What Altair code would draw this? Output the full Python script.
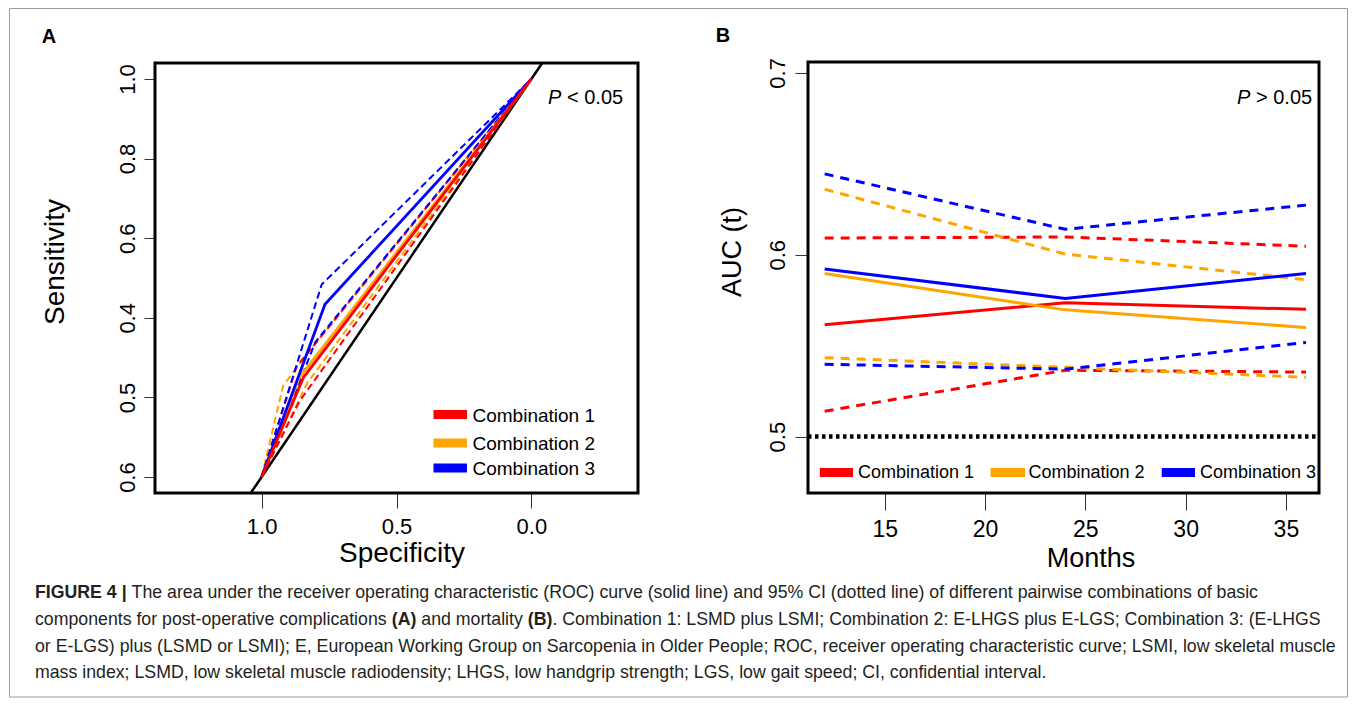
import altair as alt
import pandas as pd

# ---------------- data ----------------
COMBOS = ["Combination 1", "Combination 2", "Combination 3"]
COLORS = ["#ff0000", "#ffa500", "#0000ff"]

# Panel A: ROC curve vertices (specificity, sensitivity)
SPEC_SOLID = [[1.0, 0.845, 0.0], [1.0, 0.86, 0.0], [1.0, 0.765, 0.0]]
SENS_SOLID = [[0.0, 0.25, 1.0], [0.0, 0.25, 1.0], [0.0, 0.434, 1.0]]
SPEC_UPPER = [[1.0, 0.87, 0.0], [1.0, 0.92, 0.79, 0.0], [1.0, 0.777, 0.0]]
SENS_UPPER = [[0.0, 0.278, 1.0], [0.0, 0.23, 0.345, 1.0], [0.0, 0.484, 1.0]]
SPEC_LOWER = [[1.0, 0.86, 0.0], [1.0, 0.83, 0.0], [1.0, 0.80, 0.0]]
SENS_LOWER = [[0.0, 0.19, 1.0], [0.0, 0.237, 1.0], [0.0, 0.34, 1.0]]
DIAG_SPEC = [1.04, -0.04]
DIAG_SENS = [-0.04, 1.04]
SPEC_TICKS = [1.0, 0.5, 0.0]
SENS_TICKS = [0.0, 0.2, 0.4, 0.6, 0.8, 1.0]
SENS_TICK_LABELS = ["0.6", "0.5", "0.4", "0.6", "0.8", "1.0"]

# Panel B: time-dependent AUC
MONTHS = [12, 24, 36]
AUC_SOLID = [[0.5615, 0.5736, 0.5700], [0.5897, 0.5697, 0.5600], [0.5922, 0.5760, 0.5897]]
AUC_UPPER = [[0.6092, 0.6098, 0.6047], [0.6360, 0.6004, 0.5863], [0.6445, 0.6140, 0.6273]]
AUC_LOWER = [[0.5140, 0.5365, 0.5355], [0.5434, 0.5381, 0.5326], [0.5398, 0.5371, 0.5518]]
MONTH_TICKS = [15, 20, 25, 30, 35]
AUC_TICKS = [0.5, 0.6, 0.7]
REF_AUC = 0.5

CAPTION = [
    [("FIGURE 4 |", True),
     (" The area under the receiver operating characteristic (ROC) curve (solid line) and 95% CI (dotted line) of different pairwise combinations of basic", False)],
    [("components for post-operative complications ", False), ("(A)", True), (" and mortality ", False), ("(B)", True),
     (". Combination 1: LSMD plus LSMI; Combination 2: E-LHGS plus E-LGS; Combination 3: (E-LHGS", False)],
    [("or E-LGS) plus (LSMD or LSMI); E, European Working Group on Sarcopenia in Older People; ROC, receiver operating characteristic curve; LSMI, low skeletal muscle", False)],
    [("mass index; LSMD, low skeletal muscle radiodensity; LHGS, low handgrip strength; LGS, low gait speed; CI, confidential interval.", False)],
]

# ---------------- layout ----------------
W, H = 1341, 690
FONT = "Liberation Sans"
A_X_DOM, A_Y_DOM = [1.395, -0.395], [-0.04, 1.04]
A_X_RNG, A_Y_RNG = [147, 630], [485, 55]
B_X_DOM, B_Y_DOM = [11.17, 36.65], [0.469, 0.706]
B_X_RNG, B_Y_RNG = [800, 1311], [485, 54]


def sc(dom, rng):
    return alt.Scale(domain=dom, range=rng, nice=False, zero=False)


def label_expr(vals, labs):
    parts = [f"abs(datum.value - {v}) < 0.001 ? '{l}'" for v, l in zip(vals, labs)]
    return " : ".join(parts) + " : ''"


common_axis = dict(domain=False, grid=False, tickColor="#333", tickWidth=1, labelFont=FONT,
                   labelColor="black", title=None, labelFlush=False, labelOverlap=False)

axA_x = alt.Axis(values=SPEC_TICKS, format=".1f", orient="bottom", offset=A_Y_RNG[0] - H,
                 tickSize=15, labelPadding=8, labelFontSize=22, **common_axis)
axA_y = alt.Axis(values=SENS_TICKS, labelExpr=label_expr(SENS_TICKS, SENS_TICK_LABELS), orient="left",
                 offset=-A_X_RNG[0], tickSize=11, labelPadding=10, labelFontSize=22, labelAngle=270,
                 labelAlign="center", labelBaseline="alphabetic", **common_axis)
axB_x = alt.Axis(values=MONTH_TICKS, format="d", orient="bottom", offset=B_Y_RNG[0] - H,
                 tickSize=17, labelPadding=8, labelFontSize=23, **common_axis)
axB_y = alt.Axis(values=AUC_TICKS, format=".1f", orient="left", offset=-B_X_RNG[0],
                 tickSize=13, labelPadding=11, labelFontSize=22, labelAngle=270,
                 labelAlign="center", labelBaseline="alphabetic", **common_axis)

# ---------------- panel A ----------------
rows = []
for ci in range(3):
    for kind, SP, SE in [("solid", SPEC_SOLID, SENS_SOLID), ("upper", SPEC_UPPER, SENS_UPPER),
                         ("lower", SPEC_LOWER, SENS_LOWER)]:
        for i, (s, t) in enumerate(zip(SP[ci], SE[ci])):
            rows.append(dict(key=f"{ci}-{kind}", idx=i, spec=s, sens=t))
for i, (s, t) in enumerate(zip(DIAG_SPEC, DIAG_SENS)):
    rows.append(dict(key="diag", idx=i, spec=s, sens=t))
dfA = pd.DataFrame(rows)

xA = alt.X("spec:Q", scale=sc(A_X_DOM, A_X_RNG), axis=axA_x)
yA = alt.Y("sens:Q", scale=sc(A_Y_DOM, A_Y_RNG), axis=axA_y)
baseA = alt.Chart(dfA).encode(x=xA, y=yA, order="idx:Q")

frameA = alt.Chart(pd.DataFrame({"spec": [A_X_DOM[0]], "spec2": [A_X_DOM[1]],
                                 "sens": [A_Y_DOM[0]], "sens2": [A_Y_DOM[1]]})).mark_rect(
    fillOpacity=0, stroke="black", strokeWidth=3).encode(x=xA, x2="spec2", y=yA, y2="sens2")

layersA = [frameA,
           baseA.transform_filter(alt.datum.key == "diag").mark_line(color="black", strokeWidth=2.5)]
for ci in [1, 0, 2]:
    for kind in ["upper", "lower"]:
        layersA.append(baseA.transform_filter(alt.datum.key == f"{ci}-{kind}").mark_line(
            color=COLORS[ci], strokeWidth=2, strokeDash=[7, 4]))
for ci in [1, 2, 0]:
    layersA.append(baseA.transform_filter(alt.datum.key == f"{ci}-solid").mark_line(
        color=COLORS[ci], strokeWidth=2.8))
panelA = alt.layer(*layersA)

# ---------------- panel B ----------------
rowsB = []
for ci in range(3):
    for kind, A in [("solid", AUC_SOLID), ("upper", AUC_UPPER), ("lower", AUC_LOWER)]:
        for m, v in zip(MONTHS, A[ci]):
            rowsB.append(dict(key=f"{ci}-{kind}", month=m, auc=v))
rowsB.append(dict(key="ref", month=B_X_DOM[0], auc=REF_AUC))
rowsB.append(dict(key="ref", month=B_X_DOM[1], auc=REF_AUC))
dfB = pd.DataFrame(rowsB)

xB = alt.X("month:Q", scale=sc(B_X_DOM, B_X_RNG), axis=axB_x)
yB = alt.Y("auc:Q", scale=sc(B_Y_DOM, B_Y_RNG), axis=axB_y)
baseB = alt.Chart(dfB).encode(x=xB, y=yB, order="month:Q")

frameB = alt.Chart(pd.DataFrame({"month": [B_X_DOM[0]], "month2": [B_X_DOM[1]],
                                 "auc": [B_Y_DOM[0]], "auc2": [B_Y_DOM[1]]})).mark_rect(
    fillOpacity=0, stroke="black", strokeWidth=3).encode(x=xB, x2="month2", y=yB, y2="auc2")

layersB = [frameB,
           baseB.transform_filter(alt.datum.key == "ref").mark_line(
               color="black", strokeWidth=4.5, strokeDash=[3.5, 3.5])]
for ci in range(3):
    for kind in ["upper", "lower"]:
        layersB.append(baseB.transform_filter(alt.datum.key == f"{ci}-{kind}").mark_line(
            color=COLORS[ci], strokeWidth=3, strokeDash=[9, 7]))
for ci in range(3):
    layersB.append(baseB.transform_filter(alt.datum.key == f"{ci}-solid").mark_line(
        color=COLORS[ci], strokeWidth=3))
panelB = alt.layer(*layersB)

# ---------------- decorations ----------------
DUMMY = pd.DataFrame({"d": [0]})


def text_at(txt, x, y, size, weight="normal", style="normal", angle=0, align="center",
            baseline="middle", color="black", font=FONT):
    return alt.Chart(DUMMY).mark_text(text=txt, fontSize=size, fontWeight=weight, fontStyle=style,
                                      angle=angle, align=align, baseline=baseline, color=color,
                                      font=font).encode(x=alt.value(x), y=alt.value(y))


def rule_at(x1, x2, y, color, width):
    return alt.Chart(DUMMY).mark_rule(color=color, strokeWidth=width).encode(
        x=alt.value(x1), x2=alt.value(x2), y=alt.value(y))


deco = [
    alt.Chart(DUMMY).mark_rect(fillOpacity=0, stroke="#9a9a9a", strokeWidth=1).encode(
        x=alt.value(1.5), x2=alt.value(1339.5), y=alt.value(0.5), y2=alt.value(689)),
    text_at("A", 41, 29, 20, weight="bold"),
    text_at("B", 715, 28, 20, weight="bold"),
    text_at("Sensitivity", 48, 254, 28, angle=270),
    text_at("Specificity", 394, 546, 28),
    text_at("AUC (t)", 725, 244, 27, angle=270),
    text_at("Months", 1083, 551, 27),
    text_at("P", 540, 90, 20, style="italic", align="left"),
    text_at("< 0.05", 559, 90, 20, align="left"),
    text_at("P", 1229, 90, 20, style="italic", align="left"),
    text_at("> 0.05", 1248, 90, 20, align="left"),
]
legA_y = [406.5, 435, 460]
for ci in range(3):
    deco.append(rule_at(425.5, 459, legA_y[ci], COLORS[ci], 9))
    deco.append(text_at(COMBOS[ci], 464.5, legA_y[ci] + 1, 19, align="left"))
legB_x = [(811.8, 845, 850), (982.5, 1017, 1020.5), (1153.7, 1187, 1192)]
for ci in range(3):
    x1, x2, tx = legB_x[ci]
    deco.append(rule_at(x1, x2, 464.5, COLORS[ci], 9))
    deco.append(text_at(COMBOS[ci], tx, 465, 18, align="left"))

# caption with Helvetica/Arial metrics for positioning of bold runs
REG = {' ': 278, '%': 889, '(': 333, ')': 333, ',': 278, '-': 333, '.': 278, ':': 278, ';': 278, '|': 260,
       'A': 667, 'B': 667, 'C': 722, 'D': 722, 'E': 667, 'F': 611, 'G': 778, 'H': 722, 'I': 278, 'J': 500,
       'K': 667, 'L': 556, 'M': 833, 'N': 722, 'O': 778, 'P': 667, 'Q': 778, 'R': 722, 'S': 667, 'T': 611,
       'U': 722, 'V': 667, 'W': 944, 'X': 667, 'Y': 667, 'Z': 611,
       'a': 556, 'b': 556, 'c': 500, 'd': 556, 'e': 556, 'f': 278, 'g': 556, 'h': 556, 'i': 222, 'j': 222,
       'k': 500, 'l': 222, 'm': 833, 'n': 556, 'o': 556, 'p': 556, 'q': 556, 'r': 333, 's': 500, 't': 278,
       'u': 556, 'v': 500, 'w': 722, 'x': 500, 'y': 500, 'z': 500}
for dgt in "0123456789":
    REG[dgt] = 556
BOLD = {' ': 278, '(': 333, ')': 333, '|': 280, '4': 556, 'A': 722, 'B': 722, 'F': 611, 'I': 278,
        'G': 778, 'U': 722, 'R': 722, 'E': 667}


def tw(s, bold=False):
    tab = BOLD if bold else REG
    return sum(tab.get(ch, 556) for ch in s) / 1000.0


CAP_X0 = 27
CAP_W = 1302
cap_units = sum(tw(s, b) for s, b in CAPTION[2])
CAP_SIZE = CAP_W / cap_units
CAP_Y = [585, 612, 639, 665]
for li, line in enumerate(CAPTION):
    x = CAP_X0
    for s, b in line:
        lead = len(s) - len(s.lstrip(" "))
        xs = x + tw(s[:lead], b) * CAP_SIZE
        deco.append(text_at(s.strip(" "), xs, CAP_Y[li], CAP_SIZE, weight="bold" if b else "normal",
                            align="left", color="#231f20"))
        x += tw(s, b) * CAP_SIZE

decoLayer = alt.layer(*deco)

chart = alt.layer(panelA, panelB, decoLayer).resolve_scale(
    x="independent", y="independent").properties(
    width=W, height=H, padding=0).configure_view(strokeWidth=0)

chart.save("out.html", embed_options={"renderer": "svg", "actions": False})
